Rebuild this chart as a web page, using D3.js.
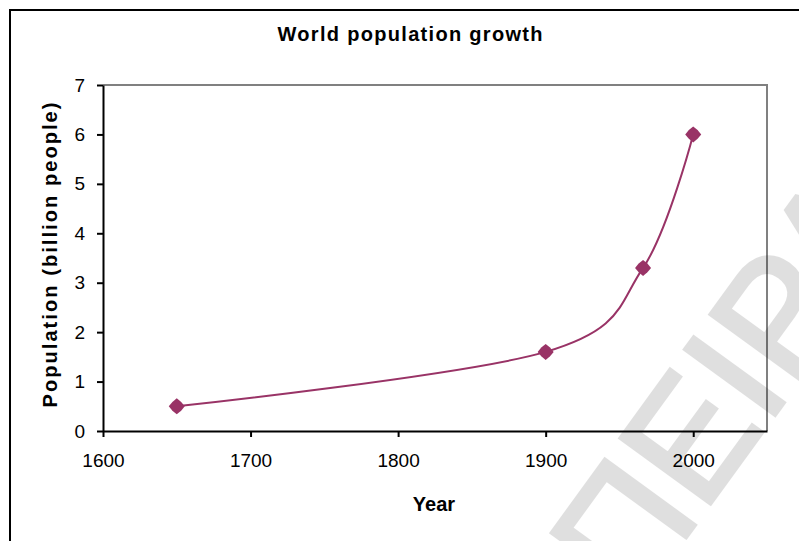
<!doctype html>
<html lang="en">
<head>
	<meta charset="UTF-8">
	<title>World population growth | d3</title>
	<style>
		body {
			margin: 0;
			background: #fff;
		}
		svg {
			display: block;
			font-family: "Liberation Sans", Arial, sans-serif;
		}
		.axis text {
			font-size: 19px;
			fill: #000;
		}
		.title, .axis-title {
			font-weight: bold;
			fill: #000;
		}
	</style>
</head>
<body>
	<script src="https://cdn.jsdelivr.net/npm/d3@7"></script>
	<script>
		// data
		var years = [1650, 1900, 1966, 2000],
			population = [0.5, 1.6, 3.3, 6.0],
			xTicks = [1600, 1700, 1800, 1900, 2000],
			yTicks = [0, 1, 2, 3, 4, 5, 6, 7];

		var w = 799,
			h = 541,
			plot = { left: 103, top: 85, right: 767, bottom: 431 },
			lineColor = '#993366';

		var svg = d3.select('body')
			.append('svg')
			.attr('width', w)
			.attr('height', h);

		var xScale = d3.scaleLinear()
			.domain([1600, 2050])
			.range([plot.left, plot.right]);

		var yScale = d3.scaleLinear()
			.domain([0, 7])
			.range([plot.bottom, plot.top]);

		/**
		* fat four pointed marker, like the excel one
		*/
		var markerType = {
			draw: function(ctx, size) {
				var o = 8, i = 6.2 * 0.707;
				ctx.moveTo(0, -o);
				ctx.lineTo(i, -i);
				ctx.lineTo(o, 0);
				ctx.lineTo(i, i);
				ctx.lineTo(0, o);
				ctx.lineTo(-i, i);
				ctx.lineTo(-o, 0);
				ctx.lineTo(-i, -i);
				ctx.closePath();
			}
		};

		var drawFrame = function() {
			// outer border of the picture (top and left only visible)
			svg.append('path')
				.attr('d', 'M10,541V10H799')
				.attr('fill', 'none')
				.attr('stroke', '#000')
				.attr('stroke-width', 2);

			// grey top and right plot border
			svg.append('path')
				.attr('d', 'M' + plot.left + ',' + plot.top + 'H' + plot.right + 'V' + plot.bottom)
				.attr('fill', 'none')
				.attr('stroke', '#808080')
				.attr('stroke-width', 2);
		};

		var drawAxes = function() {
			var xAxis = d3.axisBottom(xScale)
				.tickValues(xTicks)
				.tickFormat(d3.format('d'))
				.tickSize(6)
				.tickSizeOuter(0)
				.tickPadding(17);

			var yAxis = d3.axisLeft(yScale)
				.tickValues(yTicks)
				.tickFormat(d3.format('d'))
				.tickSize(6)
				.tickSizeOuter(0)
				.tickPadding(12);

			var gx = svg.append('g')
				.attr('class', 'axis')
				.attr('transform', 'translate(0,' + plot.bottom + ')')
				.call(xAxis);

			var gy = svg.append('g')
				.attr('class', 'axis')
				.attr('transform', 'translate(' + plot.left + ',0)')
				.call(yAxis);

			[gx, gy].forEach(function(g) {
				g.select('.domain').attr('stroke', '#000').attr('stroke-width', 2);
				g.selectAll('.tick line').attr('stroke', '#000').attr('stroke-width', 2);
				g.selectAll('text').attr('font-family', null).attr('font-size', null);
			});
		};

		var drawSeries = function() {
			var pts = years.map(function(d, i) { return [d, population[i]]; });

			var line = d3.line()
				.x(function(d) { return xScale(d[0]); })
				.y(function(d) { return yScale(d[1]); })
				.curve(d3.curveCatmullRom.alpha(0));

			svg.append('path')
				.datum(pts)
				.attr('d', line)
				.attr('fill', 'none')
				.attr('stroke', lineColor)
				.attr('stroke-width', 2);

			svg.selectAll('.marker')
				.data(pts)
				.enter()
				.append('path')
				.attr('class', 'marker')
				.attr('d', d3.symbol().type(markerType))
				.attr('transform', function(d) {
					return 'translate(' + xScale(d[0]) + ',' + yScale(d[1]) + ')';
				})
				.attr('fill', lineColor);
		};

		var drawTexts = function() {
			svg.append('text')
				.attr('class', 'title')
				.attr('x', 410)
				.attr('y', 41)
				.attr('font-size', 20)
				.attr('text-anchor', 'middle')
				.attr('textLength', 265)
				.attr('lengthAdjust', 'spacing')
				.text('World population growth');

			svg.append('text')
				.attr('class', 'axis-title')
				.attr('x', 434)
				.attr('y', 511)
				.attr('font-size', 20)
				.attr('text-anchor', 'middle')
				.text('Year');

			svg.append('text')
				.attr('class', 'axis-title')
				.attr('transform', 'translate(57,255) rotate(-90)')
				.attr('font-size', 20)
				.attr('text-anchor', 'middle')
				.attr('textLength', 305)
				.attr('lengthAdjust', 'spacing')
				.text('Population (billion people)');
		};

		// light watermark lying over the chart
		var drawWatermark = function() {
			svg.append('g')
				.attr('opacity', 0.12)
				.append('text')
				.attr('transform', 'translate(634,609) rotate(-54)')
				.attr('font-size', 162)
				.attr('fill', '#000')
				.attr('stroke', '#000')
				.attr('stroke-width', 4)
				.text('ΠΕΙΡΑΜΑ');
		};

		drawFrame();
		drawAxes();
		drawSeries();
		drawTexts();
		drawWatermark();
	</script>
</body>
</html>
